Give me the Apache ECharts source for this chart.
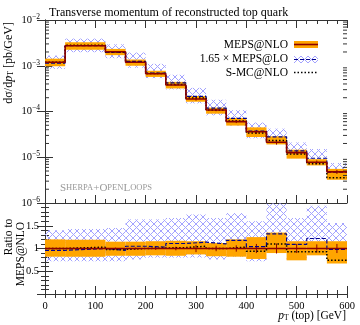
<!DOCTYPE html>
<html>
<head>
<meta charset="utf-8">
<script src="https://cdn.jsdelivr.net/npm/echarts@6/dist/echarts.min.js"></script>
<style>
  html, body { margin: 0; padding: 0; background: #fff; }
  #chart { width: 360px; height: 325px; }
</style>
</head>
<body>
<div id="chart"></div>
<script>
// bins in pT(top) [GeV]
var binEdges = [0, 40, 120, 160, 200, 240, 280, 320, 360, 400, 440, 480, 520, 560, 600]
// MEPS@NLO central values [pb/GeV]
var nloValues = [1.19e-3, 2.74e-3, 2.03e-3, 1.19e-3, 6.7e-4, 3.8e-4, 1.88e-4, 1.08e-4, 6.0e-5, 3.6e-5, 2.12e-5, 1.26e-5, 7.8e-6, 4.8e-6]
// MEPS@NLO scale band, relative to central
var nloBandLow = [0.82, 0.82, 0.84, 0.84, 0.85, 0.84, 0.87, 0.83, 0.82, 0.77, 0.90, 0.74, 0.85, 0.67]
var nloBandHigh = [1.20, 1.19, 1.15, 1.15, 1.16, 1.17, 1.16, 1.12, 1.20, 1.25, 1.35, 1.16, 1.16, 1.16]
var nloStat = [0.01, 0.01, 0.02, 0.02, 0.03, 0.04, 0.08, 0.06, 0.07, 0.1, 0.11, 0.1, 0.09, 0.1]
// 1.65 x MEPS@LO, ratio to MEPS@NLO
var loRatio = [0.96, 1.0, 0.96, 1.05, 1.03, 1.11, 1.14, 1.10, 1.18, 1.04, 1.32, 1.09, 1.22, 0.98]
var loBandLow = [0.72, 0.72, 0.72, 0.76, 0.80, 0.80, 0.80, 0.76, 0.82, 0.72, 0.95, 0.76, 0.87, 1.0]
var loBandHigh = [1.40, 1.43, 1.45, 1.64, 1.64, 1.67, 1.75, 1.67, 1.78, 1.60, 1.99, 1.67, 1.94, 1.56]
// S-MC@NLO, ratio to MEPS@NLO
var smcRatio = [1.0, 1.03, 0.98, 1.0, 1.01, 1.02, 1.05, 1.0, 1.03, 0.94, 1.10, 0.93, 0.93, 0.74]
// log axis minor ticks
var minorLogTicks = [2e-6, 3e-6, 4e-6, 5e-6, 6e-6, 7e-6, 8e-6, 9e-6,
  2e-5, 3e-5, 4e-5, 5e-5, 6e-5, 7e-5, 8e-5, 9e-5,
  2e-4, 3e-4, 4e-4, 5e-4, 6e-4, 7e-4, 8e-4, 9e-4,
  2e-3, 3e-3, 4e-3, 5e-3, 6e-3, 7e-3, 8e-3, 9e-3]

var FONT = 'Liberation Serif'
var FRAME = '#333'
var NLO_LINE = '#8b0000'
var NLO_BAND = '#ffa500'
var LO_LINE = '#00008b'
var HATCH = '#a3a3ff'

// cross hatch pattern for MEPS@LO band
var hatch = document.createElement('canvas')
hatch.width = 7
hatch.height = 7
var hc = hatch.getContext('2d')
hc.strokeStyle = HATCH
hc.lineWidth = 1
hc.beginPath()
hc.moveTo(0, 0); hc.lineTo(7, 7)
hc.moveTo(7, 0); hc.lineTo(0, 7)
hc.stroke()
var hatchFill = { image: hatch, repeat: 'repeat' }

function bandData (scale, low, high) {
  return nloValues.map(function (v, i) {
    var s = scale ? v : 1
    return [binEdges[i], binEdges[i + 1], s * low[i], s * high[i]]
  })
}

function stepData (scale, rel) {
  var out = nloValues.map(function (v, i) {
    return [binEdges[i], (scale ? v : 1) * rel[i]]
  })
  out.push([binEdges[binEdges.length - 1], out[out.length - 1][1]])
  return out
}

function bandSeries (xi, yi, data, fill) {
  return {
    type: 'custom',
    xAxisIndex: xi,
    yAxisIndex: yi,
    clip: true,
    silent: true,
    data: data,
    renderItem: function (params, api) {
      var p0 = api.coord([api.value(0), api.value(3)])
      var p1 = api.coord([api.value(1), api.value(2)])
      return {
        type: 'rect',
        shape: { x: p0[0], y: p0[1], width: p1[0] - p0[0], height: p1[1] - p0[1] },
        style: { fill: fill }
      }
    }
  }
}

function stepSeries (xi, yi, data, color, width, dash) {
  return {
    type: 'line',
    xAxisIndex: xi,
    yAxisIndex: yi,
    step: 'end',
    symbol: 'none',
    silent: true,
    clip: true,
    data: data,
    lineStyle: { color: color, width: width, type: dash || 'solid' }
  }
}

function errSeries (xi, yi, scale) {
  return {
    type: 'custom',
    xAxisIndex: xi,
    yAxisIndex: yi,
    clip: true,
    silent: true,
    data: nloValues.map(function (v, i) {
      var c = scale ? v : 1
      return [(binEdges[i] + binEdges[i + 1]) / 2, c * (1 - nloStat[i]), c * (1 + nloStat[i])]
    }),
    renderItem: function (params, api) {
      var a = api.coord([api.value(0), api.value(1)])
      var b = api.coord([api.value(0), api.value(2)])
      return {
        type: 'line',
        shape: { x1: a[0], y1: a[1], x2: b[0], y2: b[1] },
        style: { stroke: NLO_LINE, lineWidth: 1 }
      }
    }
  }
}

var xBase = {
  type: 'value', min: 0, max: 600, interval: 100,
  axisLine: { lineStyle: { color: FRAME } },
  axisTick: { inside: true, length: 8, lineStyle: { color: FRAME } },
  minorTick: { show: true, splitNumber: 5, length: 4, lineStyle: { color: FRAME } },
  splitLine: { show: false },
  axisLabel: { show: false }
}

var chart = echarts.init(document.getElementById('chart'))
chart.setOption({
  animation: false,
  title: {
    text: 'Transverse momentum of reconstructed top quark',
    left: 44,
    top: 2,
    textStyle: { fontFamily: FONT, fontSize: 12, fontWeight: 'normal', color: '#000' }
  },
  grid: [
    { left: 45, right: 13, top: 20, height: 183 },
    { left: 45, right: 13, top: 203, height: 91 }
  ],
  xAxis: [
    Object.assign({}, xBase, { gridIndex: 0, position: 'bottom' }),
    Object.assign({}, xBase, { gridIndex: 0, position: 'top' }),
    Object.assign({}, xBase, {
      gridIndex: 1,
      position: 'bottom',
      axisLabel: { show: true, margin: 7, fontFamily: FONT, fontSize: 10.5, color: '#000' }
    }),
    Object.assign({}, xBase, {
      gridIndex: 1,
      position: 'top',
      axisTick: { inside: true, length: 4, lineStyle: { color: FRAME } }
    })
  ],
  yAxis: [
    {
      type: 'log', gridIndex: 0, position: 'left', min: 1e-6, max: 1e-2, logBase: 10,
      axisLine: { show: true, lineStyle: { color: FRAME } },
      axisTick: { inside: true, length: 8, lineStyle: { color: FRAME } },
      splitLine: { show: false },
      axisLabel: {
        margin: 5,
        fontFamily: FONT,
        color: '#000',
        formatter: function (v) {
          return '{b|10}{s|−' + Math.round(-Math.log10(v)) + '}'
        },
        rich: {
          b: { fontFamily: FONT, fontSize: 10.5, color: '#000' },
          s: { fontFamily: FONT, fontSize: 7.5, color: '#000', padding: [0, 0, 6, 0] }
        }
      }
    },
    {
      type: 'log', gridIndex: 0, position: 'right', min: 1e-6, max: 1e-2, logBase: 10,
      axisLine: { show: true, lineStyle: { color: FRAME } },
      axisTick: { inside: true, length: 8, lineStyle: { color: FRAME } },
      splitLine: { show: false },
      axisLabel: { show: false }
    },
    {
      type: 'value', gridIndex: 1, position: 'left', min: 0, max: 2, interval: 0.5,
      axisLine: { show: true, lineStyle: { color: FRAME } },
      axisTick: { inside: true, length: 8, lineStyle: { color: FRAME } },
      minorTick: { show: true, splitNumber: 5, length: 4, lineStyle: { color: FRAME } },
      splitLine: { show: false },
      axisLabel: {
        margin: 6,
        fontFamily: FONT,
        fontSize: 10.5,
        color: '#000',
        formatter: function (v) { return (v === 0 || v === 2) ? '' : String(v) }
      }
    },
    {
      type: 'value', gridIndex: 1, position: 'right', min: 0, max: 2, interval: 0.5,
      axisLine: { show: true, lineStyle: { color: FRAME } },
      axisTick: { inside: true, length: 8, lineStyle: { color: FRAME } },
      minorTick: { show: true, splitNumber: 5, length: 4, lineStyle: { color: FRAME } },
      splitLine: { show: false },
      axisLabel: { show: false }
    }
  ],
  series: [
    // main panel
    bandSeries(0, 0, bandData(true, loBandLow, loBandHigh), hatchFill),
    bandSeries(0, 0, bandData(true, nloBandLow, nloBandHigh), NLO_BAND),
    stepSeries(0, 0, stepData(true, loRatio), LO_LINE, 1.2, [4, 2]),
    stepSeries(0, 0, stepData(true, smcRatio), '#000', 1.5, [1.5, 2]),
    stepSeries(0, 0, stepData(true, nloValues.map(function (v) { return v / v })), NLO_LINE, 1.6),
    errSeries(0, 0, true),
    {
      type: 'custom',
      xAxisIndex: 0,
      yAxisIndex: 0,
      silent: true,
      data: minorLogTicks.map(function (v) { return [0, 600, v] }),
      renderItem: function (params, api) {
        var l = api.coord([api.value(0), api.value(2)])
        var r = api.coord([api.value(1), api.value(2)])
        return {
          type: 'group',
          children: [
            { type: 'line', shape: { x1: l[0], y1: l[1], x2: l[0] + 4, y2: l[1] }, style: { stroke: FRAME, lineWidth: 1 } },
            { type: 'line', shape: { x1: r[0] - 4, y1: r[1], x2: r[0], y2: r[1] }, style: { stroke: FRAME, lineWidth: 1 } }
          ]
        }
      }
    },
    // ratio panel
    bandSeries(2, 2, bandData(false, loBandLow, loBandHigh), hatchFill),
    bandSeries(2, 2, bandData(false, nloBandLow, nloBandHigh), NLO_BAND),
    stepSeries(2, 2, stepData(false, loRatio), LO_LINE, 1.2, [4, 2]),
    stepSeries(2, 2, stepData(false, smcRatio), '#000', 1.5, [1.5, 2]),
    stepSeries(2, 2, stepData(false, nloValues.map(function (v) { return v / v })), NLO_LINE, 1.6),
    errSeries(2, 2, false)
  ],
  graphic: [
    {
      type: 'text', x: 9, y: 22, rotation: Math.PI / 2,
      style: {
        text: '{n|dσ/d}{i|p}{t|T}{n| [pb/GeV]}',
        align: 'right', verticalAlign: 'middle',
        rich: {
          n: { fontFamily: FONT, fontSize: 12, fill: '#000' },
          i: { fontFamily: FONT, fontSize: 12, fontStyle: 'italic', fill: '#000' },
          t: { fontFamily: FONT, fontSize: 8, fill: '#000', padding: [4, 0, 0, 0] }
        }
      }
    },
    {
      type: 'text', x: 9, y: 237, rotation: Math.PI / 2,
      style: { text: 'Ratio to', align: 'center', verticalAlign: 'middle', fontFamily: FONT, fontSize: 11.5, fill: '#000' }
    },
    {
      type: 'text', x: 21, y: 254, rotation: Math.PI / 2,
      style: { text: 'MEPS@NLO', align: 'center', verticalAlign: 'middle', fontFamily: FONT, fontSize: 11.5, fill: '#000' }
    },
    {
      type: 'text', x: 346, y: 316,
      style: {
        text: '{i|p}{t|T}{n| (top) [GeV]}',
        align: 'right', verticalAlign: 'middle',
        rich: {
          n: { fontFamily: FONT, fontSize: 11.5, fill: '#000' },
          i: { fontFamily: FONT, fontSize: 11.5, fontStyle: 'italic', fill: '#000' },
          t: { fontFamily: FONT, fontSize: 7.5, fill: '#000', padding: [4, 0, 0, 0] }
        }
      }
    },
    {
      type: 'text', x: 60, y: 188,
      style: {
        text: '{a|S}{b|HERPA}{a|+O}{b|PEN}{a|L}{b|OOPS}',
        align: 'left', verticalAlign: 'middle',
        rich: {
          a: { fontFamily: FONT, fontSize: 11, fill: '#999' },
          b: { fontFamily: FONT, fontSize: 8.5, fill: '#999' }
        }
      }
    },
    // legend
    { type: 'text', x: 288, y: 44.5, style: { text: 'MEPS@NLO', align: 'right', verticalAlign: 'middle', fontFamily: FONT, fontSize: 11.5, fill: '#000' } },
    { type: 'text', x: 288, y: 59, style: { text: '1.65 × MEPS@LO', align: 'right', verticalAlign: 'middle', fontFamily: FONT, fontSize: 11.5, fill: '#000' } },
    { type: 'text', x: 288, y: 72.5, style: { text: 'S-MC@NLO', align: 'right', verticalAlign: 'middle', fontFamily: FONT, fontSize: 11.5, fill: '#000' } },
    { type: 'rect', shape: { x: 294, y: 41, width: 24, height: 7 }, style: { fill: NLO_BAND } },
    { type: 'line', shape: { x1: 294, y1: 44.5, x2: 318, y2: 44.5 }, style: { stroke: NLO_LINE, lineWidth: 1.6 } },
    { type: 'rect', shape: { x: 294, y: 56, width: 24, height: 7 }, style: { fill: hatchFill } },
    { type: 'line', shape: { x1: 294, y1: 59.5, x2: 318, y2: 59.5 }, style: { stroke: LO_LINE, lineWidth: 1.2, lineDash: [4, 2] } },
    { type: 'line', shape: { x1: 294, y1: 72.5, x2: 318, y2: 72.5 }, style: { stroke: '#000', lineWidth: 1.5, lineDash: [1.5, 2] } }
  ]
})
</script>
</body>
</html>
